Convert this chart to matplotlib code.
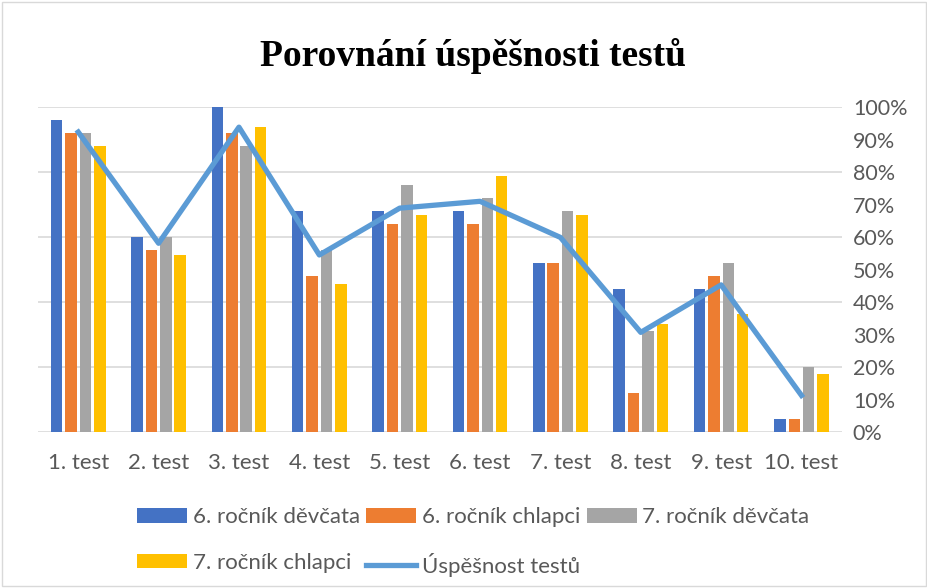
import numpy as np
import matplotlib.pyplot as plt
from matplotlib.patches import Rectangle

testy = ["1. test", "2. test", "3. test", "4. test", "5. test",
         "6. test", "7. test", "8. test", "9. test", "10. test"]

# pocty (leva osa 0-25, bez popisku)
divky_6 = [24, 15, 25, 17, 17, 17, 13, 11, 11, 1]
chlapci_6 = [23, 14, 23, 12, 16, 16, 13, 3, 12, 1]
divky_7 = [23, 15, 22, 14, 19, 18, 17, 7.8, 13, 5]
chlapci_7 = [22, 13.6, 23.5, 11.4, 16.7, 19.7, 16.7, 8.3, 9.1, 4.5]

# uspesnost testu (prava osa)
uspesnost = [0.923, 0.581, 0.938, 0.545, 0.689, 0.71, 0.599, 0.307, 0.453, 0.113]

serie = [divky_6, chlapci_6, divky_7, chlapci_7]
nazvy = ["6. ročník děvčata", "6. ročník chlapci", "7. ročník děvčata", "7. ročník chlapci"]
barvy = ["#4472C4", "#ED7D31", "#A5A5A5", "#FFC000"]

plt.rcParams['font.family'] = ['Lato', 'DejaVu Sans']
seda = "#595959"

fig = plt.figure(figsize=(9.28, 5.88), dpi=100)
ax = fig.add_axes([0.041, 0.265, 0.866, 0.553])

x = np.arange(len(testy))
krok = 0.179
sirka = 0.143
for i, (hodnoty, nazev, barva) in enumerate(zip(serie, nazvy, barvy)):
    ax.bar(x + (i - 1.5) * krok, hodnoty, width=sirka, color=barva, label=nazev, zorder=2)

ax.set_xlim(-0.5, len(testy) - 0.5)
ax.set_ylim(0, 25)
ax.set_yticks(range(0, 26, 5))
ax.set_xticks(x)
ax.set_xticklabels(testy)
ax.grid(axis='y', color="#D9D9D9", linewidth=1.2, zorder=0)
ax.set_axisbelow(True)
for s in ax.spines.values():
    s.set_visible(False)

ax2 = ax.twinx()
ax2.plot(x, uspesnost, color="#5B9BD5", linewidth=3.8, label="Úspěšnost testů", zorder=3)
ax2.set_ylim(0, 1)
ax2.set_yticks(np.arange(0, 1.01, 0.1))
ax2.set_yticklabels([f"{int(round(v * 100))}%" for v in np.arange(0, 1.01, 0.1)])
ax2.tick_params(axis='y', length=0, labelsize=15.5, labelcolor=seda, pad=8)
for s in ax2.spines.values():
    s.set_visible(False)

ax.tick_params(axis='y', left=False, right=False, labelleft=False, length=0)
ax.tick_params(axis='x', length=0, labelsize=16, labelcolor=seda, pad=15)

fig.text(0.51, 0.905, "Porovnání úspěšnosti testů", ha='center', va='center',
         fontsize=27, fontweight='bold', family='Liberation Serif')

h1, l1 = ax.get_legend_handles_labels()
h2, l2 = ax2.get_legend_handles_labels()
h = h1 + h2
l = l1 + l2
poradi = [0, 3, 1, 4, 2]
fig.legend([h[i] for i in poradi], [l[i] for i in poradi], ncol=3, frameon=False,
           loc='center', bbox_to_anchor=(0.51, 0.078), fontsize=16, labelcolor=seda,
           handlelength=2.25, handleheight=0.6, handletextpad=0.25, columnspacing=0.3,
           labelspacing=1.15)

fig.patches.append(Rectangle((0.002, 0.003), 0.996, 0.994, transform=fig.transFigure,
                             fill=False, edgecolor="#D9D9D9", linewidth=1))

plt.savefig("out.png", dpi=100)
